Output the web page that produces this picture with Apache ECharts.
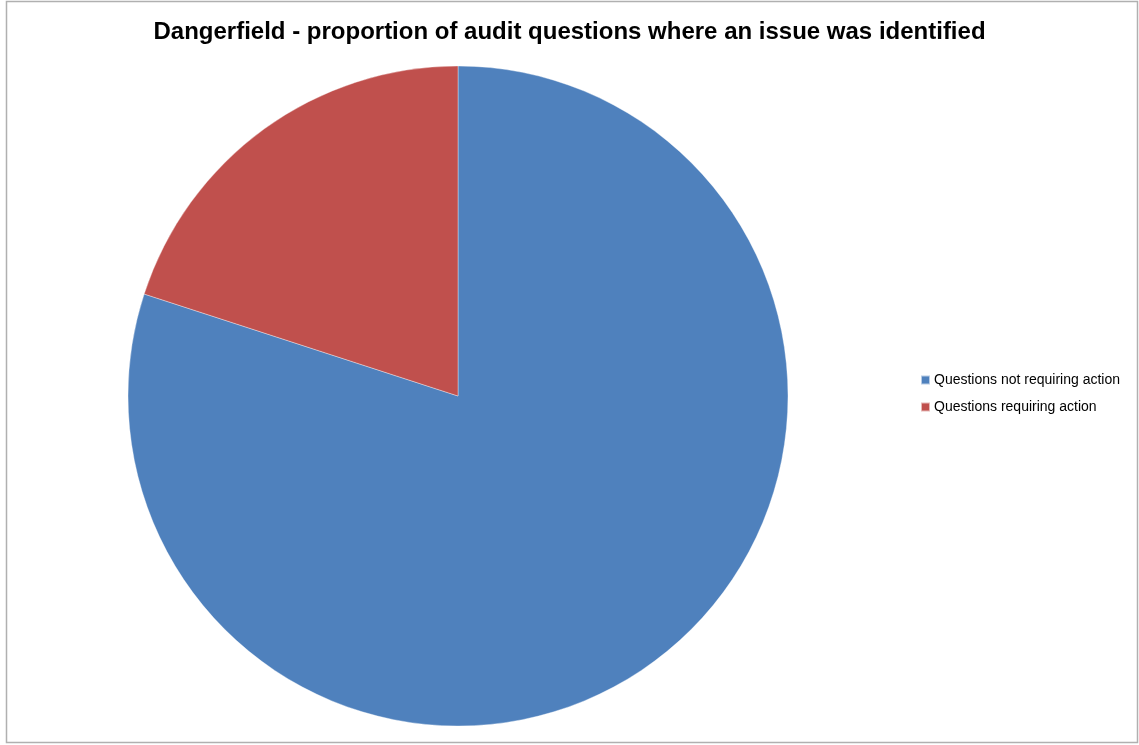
<!DOCTYPE html>
<html><head><meta charset="utf-8">
<script src="https://cdn.jsdelivr.net/npm/echarts@6/dist/echarts.min.js"></script>
<style>html,body{margin:0;padding:0;background:#fff}#c{width:1139px;height:745px}</style>
</head><body><div id="c"></div>
<script>
var titleText = 'Dangerfield - proportion of audit questions where an issue was identified';
var categories = ['Questions not requiring action', 'Questions requiring action'];
var values = [80, 20];
var colors = ['#4F81BD', '#C0504D'];

var chart = echarts.init(document.getElementById('c'));
chart.setOption({
  animation: false,
  title: {
    text: titleText, left: 'center', top: 15,
    textStyle: {fontFamily: 'Liberation Sans', fontWeight: 'bold', fontSize: 24, color: '#000'}
  },
  legend: {
    orient: 'vertical', left: 915, top: 368,
    itemWidth: 9, itemHeight: 9, itemGap: 13, icon: 'rect',
    textStyle: {fontFamily: 'Liberation Sans', fontSize: 14, lineHeight: 14, color: '#000', padding: [0,0,0,-1]},
    data: categories
  },
  graphic: [{
    type: 'rect', shape: {x: 6.5, y: 1.5, width: 1131, height: 741},
    style: {fill: 'none', stroke: '#b0b0b0', lineWidth: 1.5}, silent: true
  }],
  series: [{
    type: 'pie', center: [458, 396], radius: 330, startAngle: 90, clockwise: true,
    label: {show: false}, labelLine: {show: false},
    itemStyle: {borderColor: 'rgba(255,255,255,0.6)', borderWidth: 0.6},
    data: categories.map(function (n, i) { return {name: n, value: values[i], itemStyle: {color: colors[i]}}; })
  }]
});
</script></body></html>
